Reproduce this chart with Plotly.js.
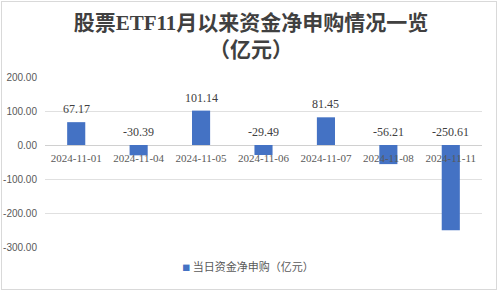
<!DOCTYPE html>
<html>
<head>
<meta charset="utf-8">
<script src="https://cdn.plot.ly/plotly-3.0.1.min.js"></script>
<style>
html,body{margin:0;padding:0;background:#fff;}
#wrap{position:relative;width:500px;height:293px;}
#chart{width:500px;height:293px;}
#frame{position:absolute;left:1px;top:1px;width:494px;height:287px;border:1px solid #d9d9d9;pointer-events:none;}
</style>
</head>
<body>
<div id="wrap"><div id="chart"></div><div id="frame"></div></div>
<script>
const categories = ["2024-11-01","2024-11-04","2024-11-05","2024-11-06","2024-11-07","2024-11-08","2024-11-11"];
const netSubscription = [67.17, -30.39, 101.14, -29.49, 81.45, -56.21, -250.61];
const yTickValues = [200, 100, 0, -100, -200, -300];
const yTickLabels = ["200.00","100.00","0.00","-100.00","-200.00","-300.00"];
const seriesName = "当日资金净申购（亿元）";
const titleLine1 = "股票ETF11月以来资金净申购情况一览";
const titleLine2 = "（亿元）";

const barColor = "#4472C4";

const traces = [
  {
    type: "bar",
    x: categories,
    y: netSubscription,
    marker: {color: barColor},
    showlegend: false,
    hoverinfo: "x+y"
  },
  {
    type: "scatter",
    mode: "markers",
    x: [null],
    y: [null],
    name: '<span style="color:' + barColor + ';font-size:8px">■</span> ' + seriesName,
    marker: {symbol: "square", size: 1, color: "rgba(0,0,0,0)"},
    showlegend: true
  }
];

const annotations = categories.map((c, i) => ({
  x: c,
  y: Math.max(netSubscription[i], 0),
  xref: "x",
  yref: "y",
  text: netSubscription[i].toFixed(2),
  showarrow: false,
  yanchor: "middle",
  yshift: 13,
  font: {family: "Liberation Serif, serif", size: 12, color: "#404040"}
}));

const plotH = 293 - 77 - 43;
annotations.push({
  x: (251 - 45) / (500 - 45 - 18),
  xref: "paper",
  y: (293 - 43 - 50) / plotH,
  yref: "paper",
  text: titleLine2,
  showarrow: false,
  yanchor: "middle",
  xanchor: "center",
  font: {family: "Liberation Serif, Noto Sans CJK SC, serif", size: 21, color: "#404040", weight: "bold"}
});

const layout = {
  width: 500,
  height: 293,
  margin: {l: 45, r: 18, t: 77, b: 43},
  paper_bgcolor: "#ffffff",
  plot_bgcolor: "#ffffff",
  title: {
    text: titleLine1,
    x: 0.502,
    xref: "container",
    xanchor: "center",
    y: 1 - 22.5 / 293,
    yref: "container",
    yanchor: "middle",
    font: {family: "Liberation Serif, Noto Sans CJK SC, serif", size: 21, color: "#404040", weight: "bold"}
  },
  bargap: 0.71,
  xaxis: {
    type: "category",
    anchor: "free",
    position: 0.6,
    showgrid: false,
    showline: false,
    ticks: "",
    ticklabelstandoff: 5,
    tickfont: {family: "Liberation Serif, serif", size: 11, color: "#595959"},
    fixedrange: true
  },
  yaxis: {
    range: [-300, 200],
    tickvals: yTickValues,
    ticktext: yTickLabels,
    showgrid: true,
    gridcolor: "#e0e0e0",
    gridwidth: 1,
    zeroline: true,
    zerolinecolor: "#d0d0d0",
    zerolinewidth: 1,
    showline: false,
    ticks: "",
    ticklabelstandoff: 7,
    tickfont: {family: "Liberation Sans, Arial, sans-serif", size: 10, color: "#595959"},
    fixedrange: true
  },
  showlegend: true,
  legend: {
    orientation: "h",
    x: 0.425,
    xanchor: "center",
    y: -0.115,
    yanchor: "middle",
    font: {family: "Noto Sans CJK SC, sans-serif", size: 11, color: "#595959"},
    itemwidth: 30,
    bgcolor: "rgba(0,0,0,0)"
  },
  annotations: annotations
};

Plotly.newPlot("chart", traces, layout, {displayModeBar: false, staticPlot: true});
</script>
</body>
</html>
